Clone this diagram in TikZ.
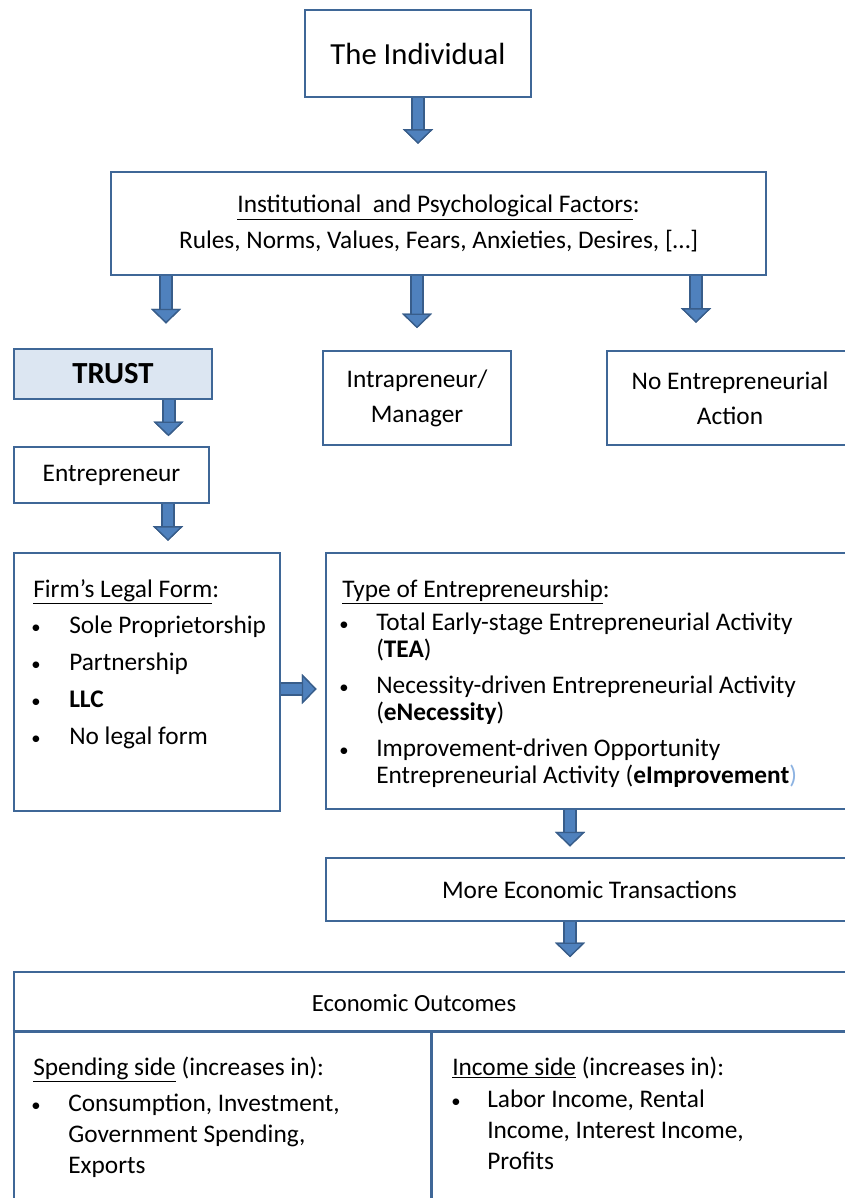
\documentclass[tikz,border=0pt]{standalone}
\usepackage{fontspec}
\setmainfont{Carlito}
\usepackage{xcolor}
\usetikzlibrary{positioning,calc,arrows.meta}

\definecolor{boxblue}{HTML}{3F6797}
\definecolor{trustfill}{HTML}{DCE6F2}
\definecolor{arrmid}{HTML}{4F81BD}
\definecolor{arrdark}{HTML}{385D8A}
\definecolor{parenblue}{HTML}{8DB3E2}

\newcommand{\smbullet}{{\fontsize{14}{14}\selectfont\textbullet}}

\tikzset{
  box/.style={draw=boxblue, line width=2.2pt, fill=white, inner sep=0pt, align=center,
    font=\fontsize{19}{26.25}\selectfont},
  sz/.style 2 args={minimum width=#1*0.75pt, minimum height=#2*0.75pt},
  txt/.style={inner sep=0pt, anchor=base west, align=left, font=\fontsize{19}{23}\selectfont},
  divline/.style={draw=boxblue, line width=2.2pt},
  barrow/.style={draw=arrmid, line width=7.5pt,
    -{Triangle[width=22.5pt,length=11pt,line width=1pt,fill=arrmid,color=arrdark]},
    preaction={draw=arrdark, line width=10.5pt}},
}

\begin{document}
\begin{tikzpicture}[x=0.75pt,y=-0.75pt]
\useasboundingbox (0,0) rectangle (845,1198);
\clip (0,0) rectangle (845,1198);

\node[box, sz={226}{87}, font=\fontsize{23}{28}\selectfont] (indiv) at (418,53.5) {The Individual};
\node[box, sz={655}{103}, font=\fontsize{19}{27}\selectfont] (factors) at (438.5,223.5)
  {\underline{Institutional~ and Psychological Factors}:\\Rules, Norms, Values, Fears, Anxieties, Desires, […]};
\node[box, sz={198}{50}, fill=trustfill, font=\fontsize{23}{28}\selectfont\bfseries] (trust) at (113,374) {TRUST};
\node[box, sz={188}{94}] (intra) at (417,398) {Intrapreneur/\\Manager};
\node[box, sz={246}{94}] (noent) at (730,398) {No Entrepreneurial\\Action};
\node[box, sz={195}{56}] (entre) at (111.5,475) {Entrepreneur};
\node[box, sz={266}{258}] (firm) at (147,682) {};
\node[box, sz={527}{256}] (type) at (589.5,681) {};
\node[box, sz={527}{63}] (more) at (589.5,889.5) {More Economic Transactions};
\node[box, sz={839}{258}] (outcomes) at (433.5,1101) {};

\node[txt] (firmhead) at (33,597) {\underline{Firm’s Legal Form}:};
\node[txt, font=\fontsize{19}{27.75}\selectfont] (firmlist) at (31,633) {\begin{tabular}[t]{@{}p{28.5pt}@{}l@{}}
\smbullet & Sole Proprietorship\\
\smbullet & Partnership\\
\smbullet & \textbf{LLC}\\
\smbullet & No legal form
\end{tabular}};

\node[txt] (typehead) at (342,597) {\underline{Type of Entrepreneurship}:};
\node[txt, font=\fontsize{19}{20.25}\selectfont] (typelist) at (339,630) {\begin{tabular}[t]{@{}p{27.75pt}@{}l@{}}
\smbullet & Total Early-stage Entrepreneurial Activity\\
 & (\textbf{TEA})\\[6.75pt]
\smbullet & Necessity-driven Entrepreneurial Activity\\
 & (\textbf{eNecessity})\\[6.75pt]
\smbullet & Improvement-driven Opportunity\\
 & Entrepreneurial Activity (\textbf{eImprovement}\textcolor{parenblue}{)}
\end{tabular}};

\draw[divline] ($(outcomes.north west)+(0,61)$) -- ($(outcomes.north east)+(0,61)$);
\draw[divline] ($(outcomes.north west)+(419,61)$) -- ($(outcomes.south west)+(419,0)$);
\node[inner sep=0pt, font=\fontsize{18.5}{23}\selectfont] (outtitle) at (414,1003) {Economic Outcomes};
\node[txt] (spendhead) at (33,1075) {\underline{Spending side} (increases in):};
\node[txt, font=\fontsize{19}{23.25}\selectfont] (spendlist) at (31,1111) {\begin{tabular}[t]{@{}p{27.75pt}@{}l@{}}
\smbullet & Consumption, Investment,\\
 & Government Spending,\\
 & Exports
\end{tabular}};
\node[txt] (incomehead) at (452,1075) {\underline{Income side} (increases in):};
\node[txt, font=\fontsize{19}{23.25}\selectfont] (incomelist) at (451,1107) {\begin{tabular}[t]{@{}p{27pt}@{}l@{}}
\smbullet & Labor Income, Rental\\
 & Income, Interest Income,\\
 & Profits
\end{tabular}};

\coordinate (trustin) at ([xshift=39.75pt]trust.north);
\coordinate (noentin) at ([xshift=-25.5pt]noent.north);
\coordinate (entrein) at ([xshift=42.75pt]entre.north);
\coordinate (firmin) at ([xshift=15.75pt]firm.north);
\coordinate (typein) at ([yshift=-6pt]type.west);
\coordinate (morein) at ([xshift=-14.6pt]more.north);
\coordinate (outin) at (morein |- outcomes.north);

\draw[barrow, shorten >=20pt] (indiv.south) -- (indiv.south |- factors.north);
\draw[barrow, shorten >=18pt] (trustin |- factors.south) -- (trustin);
\draw[barrow, shorten >=16pt] (intra.north |- factors.south) -- (intra.north);
\draw[barrow, shorten >=20pt] (noentin |- factors.south) -- (noentin);
\draw[barrow, shorten >=7pt] (entrein |- trust.south) -- (entrein);
\draw[barrow, shorten >=8pt] (firmin |- entre.south) -- (firmin);
\draw[barrow, shorten >=6pt] (typein -| firm.east) -- (typein);
\draw[barrow, shorten >=7.5pt] (morein |- type.south) -- (morein);
\draw[barrow, shorten >=10pt] (morein |- more.south) -- (outin);
\end{tikzpicture}
\end{document}
